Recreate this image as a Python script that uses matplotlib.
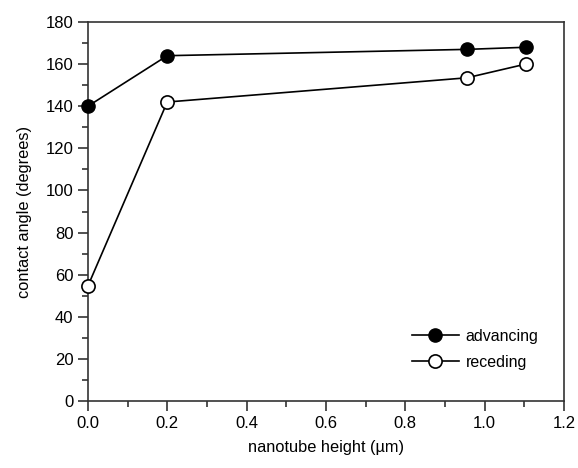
import matplotlib
matplotlib.use('Agg')
import matplotlib.pyplot as plt
from matplotlib.ticker import MultipleLocator

plt.rcParams['font.family'] = ['Liberation Sans', 'DejaVu Sans']

# data
height = [0.0, 0.2, 0.955, 1.103]
advancing = [140, 164, 167, 168]
receding = [54.6, 142, 153.5, 160]

fig = plt.figure(figsize=(5.78, 4.68), dpi=100)
ax = fig.add_axes([0.152, 0.143, 0.824, 0.81])

ax.plot(height, advancing, '-o', color='black', lw=1.2, ms=9.5,
        mfc='black', mec='black', label='advancing', clip_on=False, zorder=3)
ax.plot(height, receding, '-o', color='black', lw=1.2, ms=9.5,
        mfc='white', mec='black', mew=1.2, label='receding', clip_on=False, zorder=3)

ax.set_xlim(0, 1.2)
ax.set_ylim(0, 180)
ax.xaxis.set_major_locator(MultipleLocator(0.2))
ax.xaxis.set_minor_locator(MultipleLocator(0.1))
ax.yaxis.set_major_locator(MultipleLocator(20))
ax.yaxis.set_minor_locator(MultipleLocator(10))
ax.tick_params(which='major', direction='out', length=7, width=1.2, labelsize=12, color='#333333')
ax.tick_params(which='minor', direction='out', length=4, width=1.2, color='#333333')
ax.tick_params(top=False, right=False, which='both')
ax.xaxis.set_major_formatter(plt.FormatStrFormatter('%.1f'))

for s in ax.spines.values():
    s.set_linewidth(1.2)
    s.set_color('#333333')

ax.set_xlabel('nanotube height (µm)', fontsize=11.8, labelpad=7)
ax.set_ylabel('contact angle (degrees)', fontsize=11.8, labelpad=10)

ax.legend(loc='lower right', bbox_to_anchor=(0.96, 0.065), frameon=False,
          fontsize=11.5, handlelength=3, handletextpad=0.4,
          borderaxespad=0, labelspacing=0.7)

fig.savefig('out.png', dpi=100)
